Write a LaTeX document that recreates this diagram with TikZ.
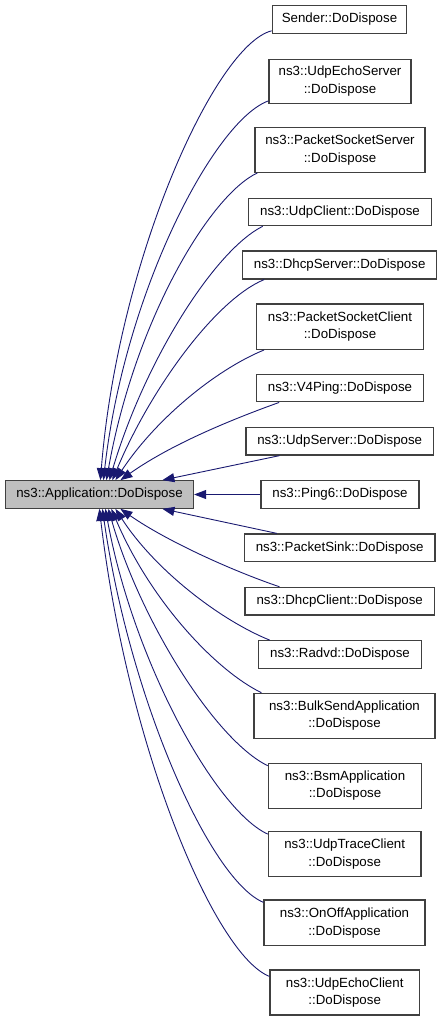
\documentclass[tikz,border=0pt]{standalone}
\usepackage{fontspec}
\setmainfont{Liberation Sans}
\usetikzlibrary{arrows.meta}
\definecolor{edgeblue}{HTML}{191970}
\definecolor{boxborder}{HTML}{404040}
\definecolor{mainfill}{HTML}{BFBFBF}
\begin{document}
\begin{tikzpicture}[x=1pt,y=-1pt,
  box/.style={draw=boxborder, line width=1.2pt, fill=white, inner sep=0pt, align=center,
    font=\fontsize{13.3}{17.5}\selectfont},
  mainbox/.style={box, fill=mainfill},
  edge/.style={draw=edgeblue, line width=0.9pt, -{Triangle[length=12pt,width=9pt]}}]
\useasboundingbox (0,0) rectangle (443,1021);
\node[mainbox, minimum width=188pt, minimum height=27.5pt] (main) at (99.5,494.5) {ns3::Application::DoDispose};
\node[box, minimum width=134.5pt, minimum height=28pt] (n1) at (339.5,19.2) {Sender::DoDispose};
\node[box, minimum width=142pt, minimum height=44pt] (n2) at (340,81.3) {ns3::UdpEchoServer\\::DoDispose};
\node[box, minimum width=170pt, minimum height=44.6pt] (n3) at (340,150) {ns3::PacketSocketServer\\::DoDispose};
\node[box, minimum width=183.4pt, minimum height=27.4pt] (n4) at (340,212) {ns3::UdpClient::DoDispose};
\node[box, minimum width=194pt, minimum height=28pt] (n5) at (339.7,265) {ns3::DhcpServer::DoDispose};
\node[box, minimum width=166.6pt, minimum height=45.3pt] (n6) at (340,326.7) {ns3::PacketSocketClient\\::DoDispose};
\node[box, minimum width=166.6pt, minimum height=27.7pt] (n7) at (340,388) {ns3::V4Ping::DoDispose};
\node[box, minimum width=187.3pt, minimum height=27.7pt] (n8) at (339.7,441.2) {ns3::UdpServer::DoDispose};
\node[box, minimum width=158pt, minimum height=27.6pt] (n9) at (340,494.5) {ns3::Ping6::DoDispose};
\node[box, minimum width=190.7pt, minimum height=27.7pt] (n10) at (339.7,547.8) {ns3::PacketSink::DoDispose};
\node[box, minimum width=189.3pt, minimum height=27.7pt] (n11) at (339.7,601.2) {ns3::DhcpClient::DoDispose};
\node[box, minimum width=163.4pt, minimum height=27.6pt] (n12) at (340,654.5) {ns3::Radvd::DoDispose};
\node[box, minimum width=181pt, minimum height=45pt] (n13) at (344.5,715.8) {ns3::BulkSendApplication\\::DoDispose};
\node[box, minimum width=153.4pt, minimum height=45pt] (n14) at (345,785.8) {ns3::BsmApplication\\::DoDispose};
\node[box, minimum width=152.7pt, minimum height=45pt] (n15) at (344.7,854.2) {ns3::UdpTraceClient\\::DoDispose};
\node[box, minimum width=161pt, minimum height=45.7pt] (n16) at (344.5,922.8) {ns3::OnOffApplication\\::DoDispose};
\node[box, minimum width=149.3pt, minimum height=45pt] (n17) at (344.7,992.5) {ns3::UdpEchoClient\\::DoDispose};
% upper edges
\draw[edge] ([yshift=3pt]n1.south west) .. controls (215,45) and (118,260) .. ([xshift=95.5pt]main.north west);
\draw[edge] ([yshift=3pt]n2.south west) .. controls (215,120) and (125,290) .. ([xshift=98.5pt]main.north west);
\draw[edge] ([xshift=3pt]n3.south west) .. controls (210,195) and (135,320) .. ([xshift=101.5pt]main.north west);
\draw[edge] ([xshift=15pt]n4.south west) .. controls (215,250) and (145,360) .. ([xshift=104.5pt]main.north west);
\draw[edge] ([xshift=22pt]n5.south west) .. controls (215,300) and (150,390) .. ([xshift=107.5pt]main.north west);
\draw[edge] ([xshift=8pt]n6.south west) .. controls (215,370) and (155,420) .. ([xshift=110.5pt]main.north west);
\draw[edge] ([xshift=23pt]n7.south west) .. controls (230,420) and (170,445) .. ([xshift=115.5pt]main.north west);
\draw[edge] ([xshift=34pt]n8.south west) -- ([xshift=157.5pt]main.north west);
\draw[edge] (n9.west) -- (main.east);
% lower edges
\draw[edge] ([xshift=33pt]n10.north west) -- ([xshift=157.5pt]main.south west);
\draw[edge] ([xshift=35pt]n11.north west) .. controls (230,570) and (165,540) .. ([xshift=115.5pt]main.south west);
\draw[edge] ([xshift=12pt]n12.north west) .. controls (220,620) and (155,570) .. ([xshift=110.5pt]main.south west);
\draw[edge] ([xshift=8pt]n13.north west) .. controls (215,670) and (150,600) .. ([xshift=106.5pt]main.south west);
\draw[edge] ([yshift=-3pt]n14.north west) .. controls (215,740) and (140,620) .. ([xshift=103.5pt]main.south west);
\draw[edge] ([yshift=-3pt]n15.north west) .. controls (215,810) and (133,660) .. ([xshift=100.5pt]main.south west);
\draw[edge] ([yshift=-3pt]n16.north west) .. controls (210,880) and (130,700) .. ([xshift=97.5pt]main.south west);
\draw[edge] ([yshift=-7pt]n17.north west) .. controls (215,955) and (128,750) .. ([xshift=94.5pt]main.south west);
\end{tikzpicture}
\end{document}
